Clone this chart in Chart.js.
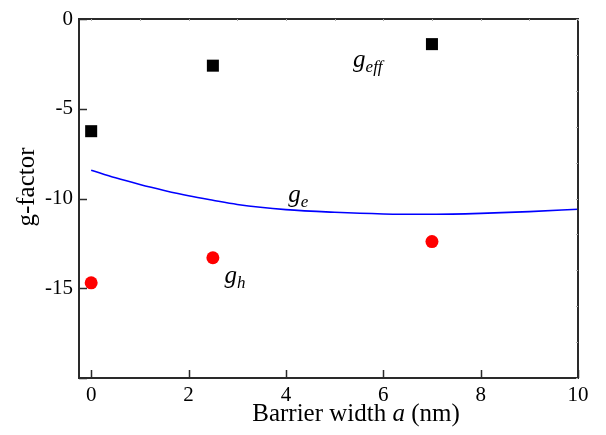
<!DOCTYPE html>
<html>
<head>
<meta charset="utf-8">
<script src="https://cdn.jsdelivr.net/npm/chart.js@4/dist/chart.umd.min.js"></script>
<style>
  body { margin: 0; background: #fff; }
  #wrap { width: 606px; height: 435px; }
</style>
</head>
<body>
<div id="wrap"><canvas id="chart" width="606" height="435"></canvas></div>
<script>
// barrier widths (nm) where g_eff and g_h were measured
const widths = [0, 2.5, 7];
const gEff = [-6.25, -2.6, -1.4];
const gH = [-14.7, -13.3, -12.4];

// g_e curve
const geX = [0, 0.5, 1, 1.5, 2, 2.5, 3, 4, 5, 6, 7, 8, 9, 10];
const geY = [-8.42, -8.85, -9.22, -9.55, -9.85, -10.1, -10.33, -10.62, -10.77, -10.86, -10.88, -10.83, -10.73, -10.6];

const xTicks = [0, 2, 4, 6, 8, 10];
const yTicks = [0, -5, -10, -15, -20];

// curve labels: [main, subscript, x, y]
const curveLabels = [
    ['g', 'eff', 5.38, -2.68],
    ['g', 'e', 4.05, -10.2],
    ['g', 'h', 2.74, -14.7],
];

const serif = '"Liberation Serif", "DejaVu Serif", serif';

const toPoints = (xs, ys) => xs.map((x, i) => ({ x, y: ys[i] }));

// frame, inward ticks, labels and axis titles
const decorPlugin = {
    id: 'decor',
    afterDatasetsDraw(chart) {
        const { ctx, chartArea: a, scales: { x, y } } = chart;
        ctx.save();
        ctx.strokeStyle = '#2a2a2a';
        ctx.lineWidth = 2;
        ctx.strokeRect(a.left, a.top, a.right - a.left, a.bottom - a.top);

        ctx.lineWidth = 1.5;
        ctx.beginPath();
        xTicks.forEach(v => {
            const px = Math.round(x.getPixelForValue(v)) + 0.5;
            ctx.moveTo(px, a.bottom);
            ctx.lineTo(px, a.bottom - 8);
        });
        yTicks.forEach(v => {
            const py = Math.round(y.getPixelForValue(v)) + 0.5;
            ctx.moveTo(a.left, py);
            ctx.lineTo(a.left + 8, py);
        });
        ctx.stroke();

        // faint mirrored ticks on top and right
        ctx.strokeStyle = '#aaa';
        ctx.lineWidth = 1;
        ctx.beginPath();
        for (let v = 0; v <= 10; v++) {
            const px = Math.round(x.getPixelForValue(v)) + 0.5;
            ctx.moveTo(px, a.top);
            ctx.lineTo(px, a.top + 2);
        }
        for (let v = 0; v >= -20; v -= 2) {
            const py = Math.round(y.getPixelForValue(v)) + 0.5;
            ctx.moveTo(a.right, py);
            ctx.lineTo(a.right - 2, py);
        }
        ctx.stroke();

        ctx.fillStyle = '#000';
        ctx.textBaseline = 'alphabetic';
        ctx.textAlign = 'left';
        curveLabels.forEach(([main, sub, vx, vy]) => {
            const px = x.getPixelForValue(vx);
            const py = y.getPixelForValue(vy);
            ctx.font = 'italic 25px ' + serif;
            ctx.fillText(main, px, py);
            const w = ctx.measureText(main).width;
            ctx.font = 'italic 17px ' + serif;
            ctx.fillText(sub, px + w, py + 5);
        });

        // x axis title with italic a
        const parts = [['Barrier width ', 'normal'], ['a', 'italic'], [' (nm)', 'normal']];
        let total = 0;
        parts.forEach(p => {
            ctx.font = p[1] + ' 25px ' + serif;
            p.push(ctx.measureText(p[0]).width);
            total += p[2];
        });
        let tx = 356 - total / 2;
        parts.forEach(p => {
            ctx.font = p[1] + ' 25px ' + serif;
            ctx.fillText(p[0], tx, 421);
            tx += p[2];
        });

        // y axis title
        ctx.translate(34, 187);
        ctx.rotate(-Math.PI / 2);
        ctx.textAlign = 'center';
        ctx.font = '25px ' + serif;
        ctx.fillText('g-factor', 0, 0);
        ctx.restore();
    }
};

new Chart(document.getElementById('chart'), {
    type: 'scatter',
    data: {
        datasets: [
            {
                label: 'g_e',
                data: toPoints(geX, geY),
                showLine: true,
                borderColor: '#0000ff',
                borderWidth: 1.6,
                pointRadius: 0,
                cubicInterpolationMode: 'monotone',
                fill: false,
            },
            {
                label: 'g_eff',
                data: toPoints(widths, gEff),
                pointStyle: 'rect',
                pointRadius: 8.5,
                backgroundColor: '#000',
                borderColor: '#000',
                borderWidth: 0,
            },
            {
                label: 'g_h',
                data: toPoints(widths, gH),
                pointStyle: 'circle',
                pointRadius: 6.5,
                backgroundColor: '#ff0000',
                borderColor: '#ff0000',
                borderWidth: 0,
            },
        ]
    },
    options: {
        responsive: false,
        animation: false,
        layout: { padding: { top: 19, right: 28, left: 0, bottom: 0 } },
        plugins: {
            legend: { display: false },
            tooltip: { enabled: false },
        },
        scales: {
            x: {
                type: 'linear',
                min: -0.25,
                max: 10,
                afterBuildTicks: s => { s.ticks = xTicks.map(v => ({ value: v })); },
                afterFit: s => { s.height = 57; },
                grid: { display: false, drawTicks: false },
                border: { display: false },
                ticks: {
                    color: '#000',
                    padding: 5,
                    maxRotation: 0,
                    font: { family: serif, size: 21 },
                },
            },
            y: {
                type: 'linear',
                min: -20,
                max: 0,
                afterBuildTicks: s => { s.ticks = yTicks.map(v => ({ value: v })); },
                afterFit: s => { s.width = 79; },
                grid: { display: false, drawTicks: false },
                border: { display: false },
                ticks: {
                    color: '#000',
                    padding: 6,
                    font: { family: serif, size: 21 },
                    callback: v => (v === -20 ? '' : v),
                },
            },
        },
    },
    plugins: [decorPlugin],
});
</script>
</body>
</html>
